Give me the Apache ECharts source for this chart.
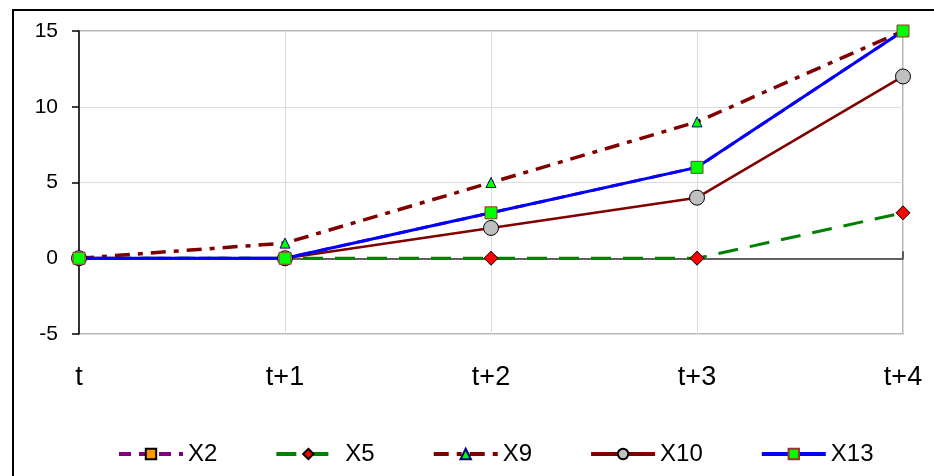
<!DOCTYPE html>
<html><head><meta charset="utf-8">
<script src="https://cdn.jsdelivr.net/npm/echarts@6/dist/echarts.min.js"></script>
<style>html,body{margin:0;padding:0;background:#fff}#c{width:934px;height:476px}</style>
</head><body><div id="c"></div>
<script>
const categories = ['t', 't+1', 't+2', 't+3', 't+4'];
const yTicks = [-5, 0, 5, 10, 15];
const x2 = [0, 0, 3, 6, 15];
const x5 = [0, 0, 0, 0, 3];
const x9 = [0, 1, 5, 9, 15];
const x10 = [0, 0, 2, 4, 12];
const x13 = [0, 0, 3, 6, 15];

const FONT = '"Liberation Sans", Arial, sans-serif';
const chart = echarts.init(document.getElementById('c'));
chart.setOption({
  animation: false,
  backgroundColor: '#fff',
  textStyle: { fontFamily: FONT },
  graphic: [{
    type: 'rect', z: -1,
    shape: { x: 13, y: 10, width: 940, height: 480 },
    style: { fill: 'none', stroke: '#000', lineWidth: 2 }
  }],
  grid: { left: 79, right: 31, top: 31, bottom: 142, show: true, borderColor: '#a0a0a0', borderWidth: 1.5 },
  legend: {
    left: 112, top: 437, itemWidth: 64, itemHeight: 13, itemGap: 57,
    lineStyle: { width: 4 },
    textStyle: { fontSize: 24, color: '#000', fontFamily: FONT },
    data: ['X2', 'X5', 'X9', 'X10', 'X13']
  },
  xAxis: {
    type: 'category', data: categories, boundaryGap: false,
    axisLine: { onZero: true, lineStyle: { color: '#333', width: 1.5 } },
    axisTick: { show: true, inside: true, length: 7, lineStyle: { color: '#333', width: 1.5 } },
    axisLabel: { fontSize: 27, color: '#000', margin: 30, fontFamily: FONT },
    splitLine: { show: true, lineStyle: { color: '#dcdcdc', width: 1 } }
  },
  yAxis: {
    type: 'value', min: yTicks[0], max: yTicks[yTicks.length - 1], interval: 5,
    axisLine: { show: true, onZero: false, lineStyle: { color: '#000', width: 1.5 } },
    axisTick: { show: true, length: 7, lineStyle: { color: '#000', width: 1.5 } },
    axisLabel: { fontSize: 21, color: '#000', margin: 21, fontFamily: FONT },
    splitLine: { show: true, lineStyle: { color: '#dcdcdc', width: 1 } }
  },
  series: [
    { name: 'X2', type: 'line', data: x2, symbol: 'rect', symbolSize: 10,
      itemStyle: { color: '#FF9900', borderColor: '#000', borderWidth: 1 },
      lineStyle: { color: '#800080', width: 3, type: [12, 8] } },
    { name: 'X5', type: 'line', data: x5, symbol: 'diamond', symbolSize: 14,
      itemStyle: { color: '#FF0000', borderColor: '#000', borderWidth: 1 },
      lineStyle: { color: '#008000', width: 3, type: [20, 12] } },
    { name: 'X9', type: 'line', data: x9, symbol: 'triangle', symbolSize: 10,
      itemStyle: { color: '#00FF00', borderColor: '#000080', borderWidth: 1 },
      lineStyle: { color: '#800000', width: 3.5, type: [15, 8, 5, 8] } },
    { name: 'X10', type: 'line', data: x10, symbol: 'circle', symbolSize: 15,
      itemStyle: { color: '#C0C0C0', borderColor: '#000', borderWidth: 1 },
      lineStyle: { color: '#800000', width: 2.5 } },
    { name: 'X13', type: 'line', data: x13, symbol: 'rect', symbolSize: 12,
      itemStyle: { color: '#00FF00', borderColor: '#993333', borderWidth: 1 },
      lineStyle: { color: '#0000FF', width: 3 } }
  ]
});
</script></body></html>
